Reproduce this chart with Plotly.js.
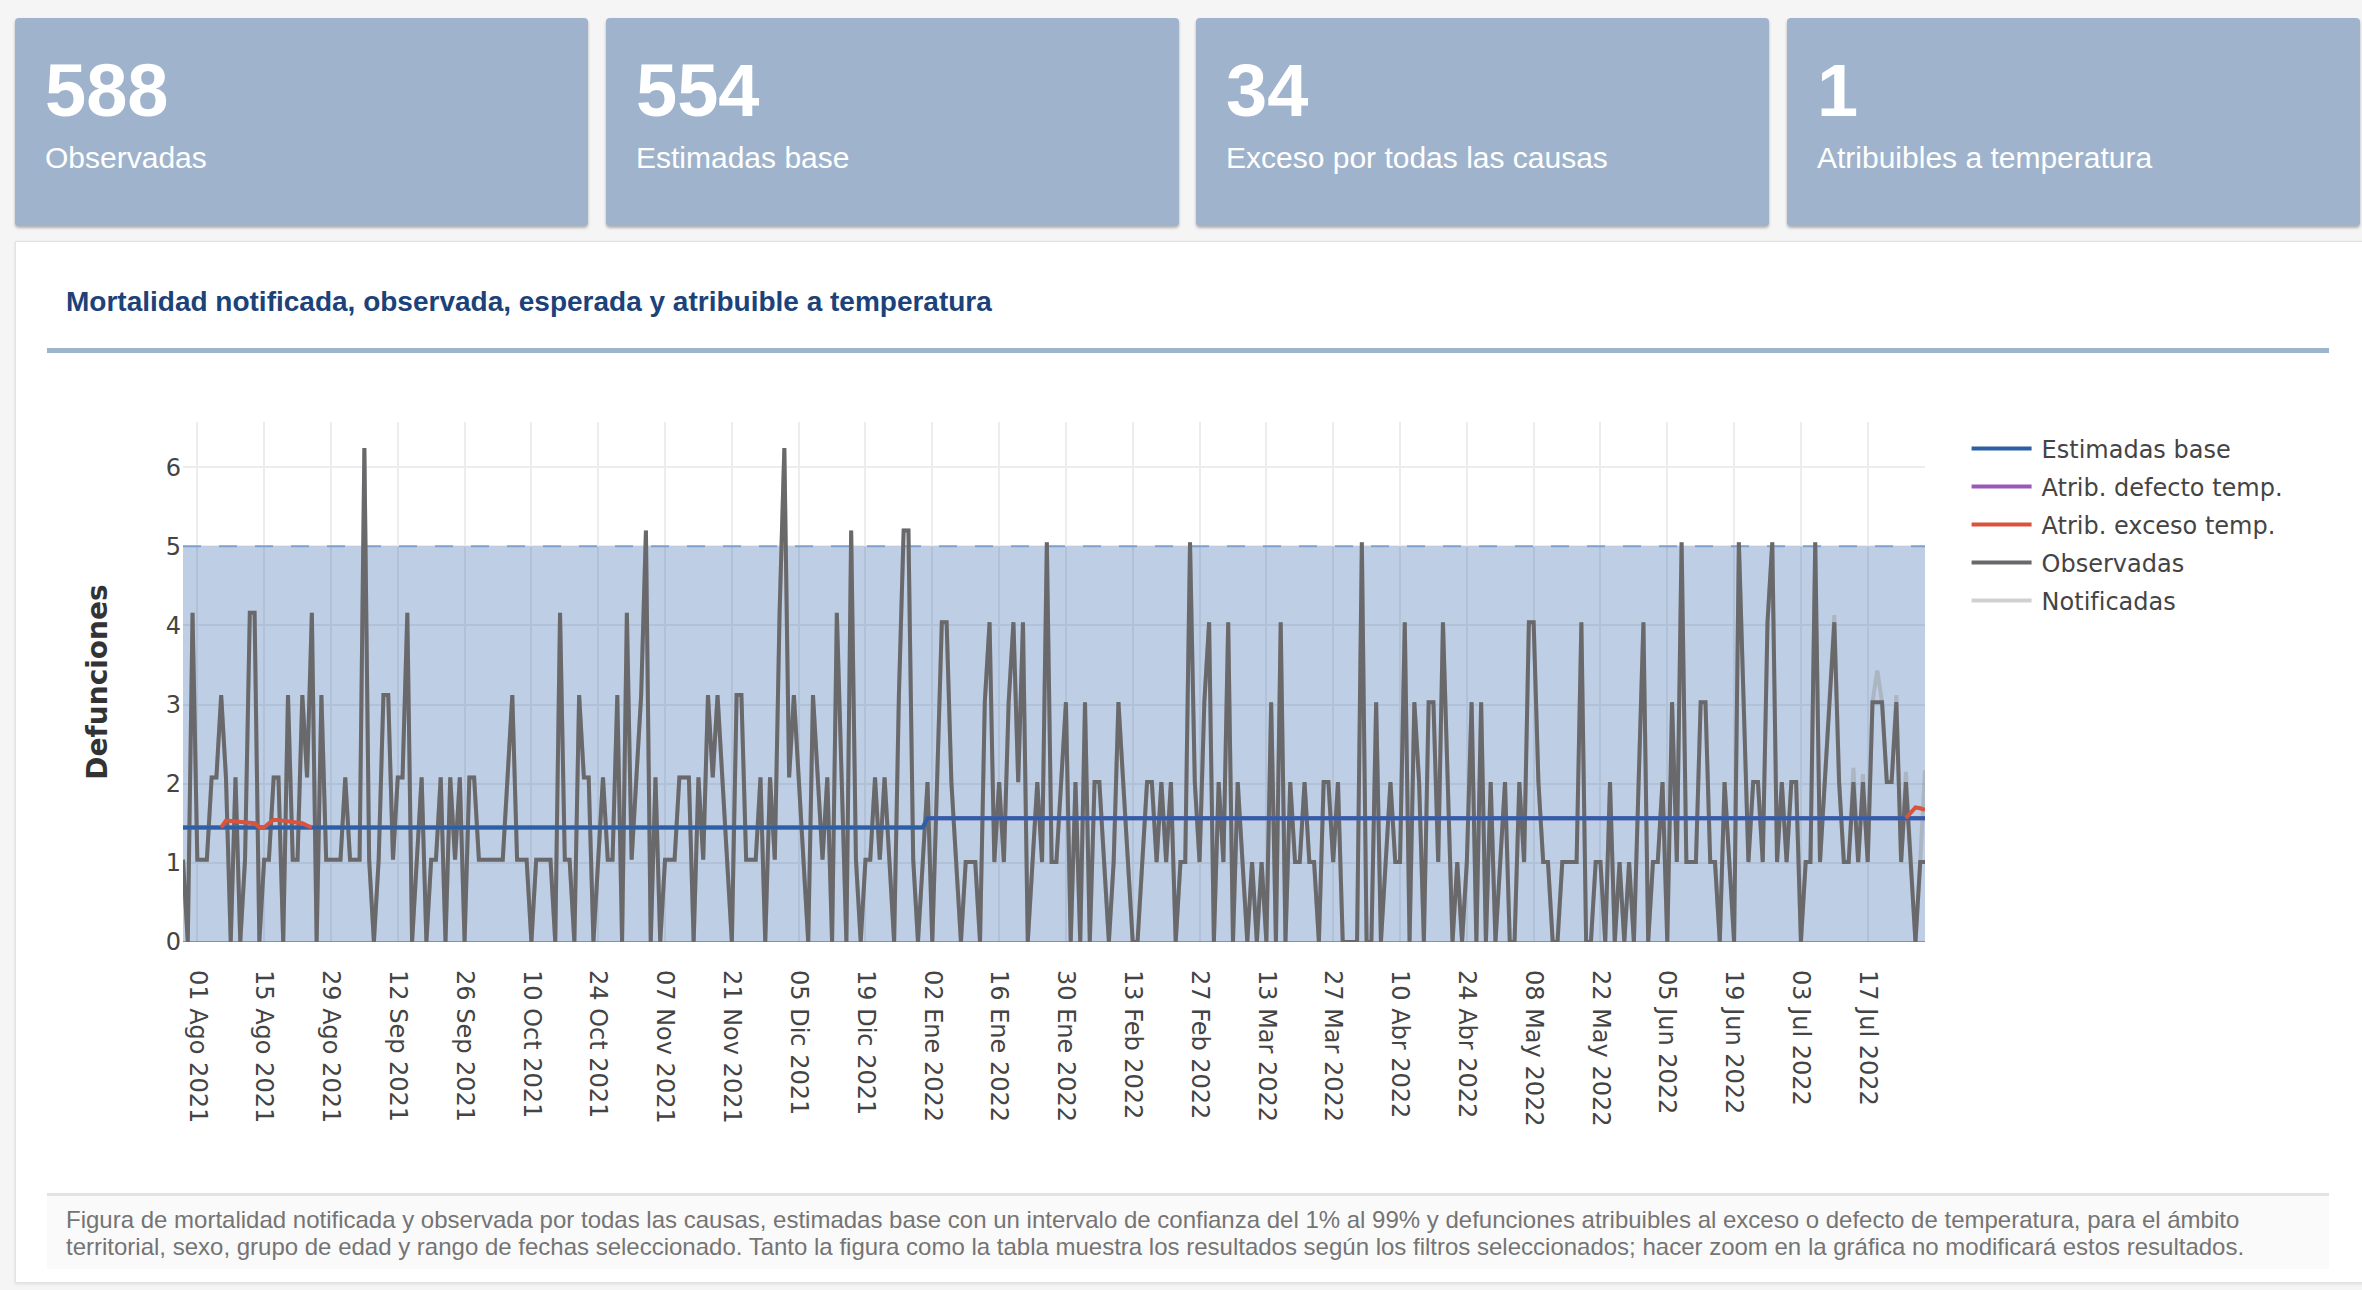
<!DOCTYPE html>
<html lang="es">
<head>
<meta charset="utf-8">
<title>Mortalidad notificada, observada, esperada y atribuible a temperatura</title>
<script src="https://cdn.plot.ly/plotly-3.0.1.min.js"></script>
<style>
  html, body { margin: 0; padding: 0; }
  body {
    width: 2362px; height: 1290px; overflow: hidden; position: relative;
    background: #f5f5f5; font-family: "Liberation Sans", Arial, Helvetica, sans-serif;
  }
  .kpi {
    position: absolute; top: 18px; width: 573px; height: 208px;
    background: #9fb4cc; border-radius: 4px;
    box-shadow: 0 2px 3px rgba(0,0,0,0.28);
    color: #fff;
  }
  .kpi .num {
    position: absolute; left: 30px; top: 36px;
    font-size: 74px; line-height: 74px; font-weight: bold;
  }
  .kpi .lbl {
    position: absolute; left: 30px; top: 125px;
    font-size: 30px; line-height: 30px;
  }
  #panel {
    position: absolute; left: 15px; top: 241px; width: 2400px; height: 1040px;
    background: #fff; border: 1px solid #e2e2e2;
    box-shadow: 0 1px 3px rgba(0,0,0,0.10);
  }
  #titulo {
    position: absolute; left: 50px; top: 46px;
    font-size: 28px; line-height: 28px; font-weight: bold; color: #1b4279;
    white-space: nowrap;
  }
  #regla {
    position: absolute; left: 31px; top: 106px; width: 2282px; height: 5px;
    background: #9cb5cd;
  }
  #nota {
    position: absolute; left: 31px; top: 951px; width: 2282px; height: 76px;
    background: #fafafa; border-top: 3px solid #e3e3e3;
    color: #747474; font-size: 24px; line-height: 27px;
    box-sizing: border-box; padding: 10px 0 0 19px; white-space: nowrap;
  }
  #grafico {
    position: absolute; left: 15px; top: 380px;
    transform: scale(2); transform-origin: 0 0;
  }
</style>
</head>
<body>

<div class="kpi" style="left:15px"><div class="num">588</div><div class="lbl">Observadas</div></div>
<div class="kpi" style="left:606px"><div class="num">554</div><div class="lbl">Estimadas base</div></div>
<div class="kpi" style="left:1196px"><div class="num">34</div><div class="lbl">Exceso por todas las causas</div></div>
<div class="kpi" style="left:1787px"><div class="num">1</div><div class="lbl">Atribuibles a temperatura</div></div>

<div id="panel">
  <div id="titulo">Mortalidad notificada, observada, esperada y atribuible a temperatura</div>
  <div id="regla"></div>
  <div id="nota">Figura de mortalidad notificada y observada por todas las causas, estimadas base con un intervalo de confianza del 1% al 99% y defunciones atribuibles al exceso o defecto de temperatura, para el ámbito<br>territorial, sexo, grupo de edad y rango de fechas seleccionado. Tanto la figura como la tabla muestra los resultados según los filtros seleccionados; hacer zoom en la gráfica no modificará estos resultados.</div>
</div>

<div id="grafico"></div>

<script>
// Daily observed deaths, 29 Jul 2021 - 31 Dec 2021
const observadas2021 = [
  1.04,0,4.16,1.04,1.04,1.04,2.08,2.08,3.12,2.08,
  0,2.08,0,1.04,4.16,4.16,0,1.04,1.04,2.08,
  2.08,0,3.12,1.04,1.04,3.12,2.08,4.16,0,3.12,
  1.04,1.04,1.04,1.04,2.08,1.04,1.04,1.04,6.24,1.04,
  0,1.04,3.12,3.12,1.04,2.08,2.08,4.16,0,1.04,
  2.08,0,1.04,1.04,2.08,0,2.08,1.04,2.08,0,
  2.08,2.08,1.04,1.04,1.04,1.04,1.04,1.04,2.08,3.12,
  1.04,1.04,1.04,0,1.04,1.04,1.04,1.04,0,4.16,
  1.04,1.04,0,3.12,2.08,2.08,0,1.04,2.08,1.04,
  1.04,3.12,0,4.16,1.04,2.08,3.12,5.2,0,2.08,
  0,1.04,1.04,1.04,2.08,2.08,2.08,0,2.08,1.04,
  3.12,2.08,3.12,2.08,1.04,0,3.12,3.12,1.04,1.04,
  1.04,2.08,0,2.08,1.04,4.16,6.24,2.08,3.12,2.08,
  1.04,0,3.12,2.08,1.04,2.08,0,4.16,2.08,0,
  5.2,1.04,0,1.04,1.04,2.08,1.04,2.08,1.04,0,
  3.12,5.2,5.2,1.04,0,1.04
];

// Daily observed deaths, 1 Jan 2022 - 29 Jul 2022
const observadas2022 = [
  2.02,0,2.02,4.04,
  4.04,2.02,1.01,0,1.01,1.01,1.01,0,3.03,4.04,
  1.01,2.02,1.01,3.03,4.04,2.02,4.04,0,1.01,2.02,
  1.01,5.05,1.01,1.01,2.02,3.03,0,2.02,0,3.03,
  0,2.02,2.02,1.01,0,1.01,3.03,2.02,1.01,0,
  0,1.01,2.02,2.02,1.01,2.02,1.01,2.02,0,1.01,
  1.01,5.05,2.02,1.01,3.03,4.04,0,2.02,1.01,4.04,
  0,2.02,1.01,0,1.01,0,1.01,0,3.03,0,
  4.04,0,2.02,1.01,1.01,2.02,1.01,1.01,0,2.02,
  2.02,1.01,2.02,0,0,0,0,5.05,0,0,
  3.03,0,1.01,2.02,1.01,1.01,4.04,0,3.03,2.02,
  0,3.03,3.03,1.01,4.04,2.02,0,1.01,0,1.01,
  3.03,0,3.03,0,2.02,0,1.01,2.02,0,0,
  2.02,1.01,4.04,4.04,2.02,1.01,1.01,0,0,1.01,
  1.01,1.01,1.01,4.04,0,0,1.01,1.01,0,2.02,
  0,1.01,0,1.01,0,2.02,4.04,0,1.01,1.01,
  2.02,0,3.03,1.01,5.05,1.01,1.01,1.01,3.03,3.03,
  1.01,1.01,0,2.02,1.01,0,5.05,3.03,1.01,2.02,
  2.02,1.01,4.04,5.05,1.01,2.02,1.01,2.02,2.02,0,
  1.01,1.01,5.05,1.01,2.02,3.03,4.04,2.02,1.01,1.01,
  2.02,1.01,2.02,1.01,3.03,3.03,3.03,2.02,2.02,3.03,
  1.01,2.02,1.01,0,1.01,1.01
];

const inicioSerie = '2021-07-29';
const finSerie = '2022-07-29';

// Notified deaths over the last days (8 Jul - 29 Jul 2022); before that they match the observed series
const inicioNotificadasFinal = '2022-07-08';
const notificadasFinal = [2.02,3.03,4.13,2.02,1.01,1.01,2.2,1.01,2.12,1.01,3.03,3.43,3.03,2.02,2.02,3.12,1.01,2.15,1.01,0,1.01,2.17];

// Baseline estimate (one level per year)
const estimadasFechas = ['2021-07-29','2021-12-31','2022-01-01','2022-07-29'];
const estimadasValores = [1.447,1.447,1.563,1.563];

// 1%-99% confidence band
const bandaFechas = ['2021-07-29','2022-07-29'];
const bandaInferior = [0,0];
const bandaSuperior = [5,5];

// Baseline plus deaths attributable to excess temperature
const excesoFechas = [
  '2021-08-06','2021-08-07','2021-08-08','2021-08-09','2021-08-10','2021-08-11','2021-08-12','2021-08-13','2021-08-14','2021-08-15',
  '2021-08-16','2021-08-17','2021-08-18','2021-08-19','2021-08-20','2021-08-21','2021-08-22','2021-08-23','2021-08-24','2021-08-25',
  '2022-01-01',
  '2022-07-25','2022-07-26','2022-07-27','2022-07-28','2022-07-29'
];
const excesoValores = [
  1.447,1.535,1.53,1.525,1.52,1.515,1.51,1.50,1.447,1.447,
  1.50,1.545,1.54,1.535,1.53,1.525,1.52,1.50,1.47,1.447,
  null,
  1.563,1.63,1.70,1.69,1.67
];

const mesesCortos = ['Ene','Feb','Mar','Abr','May','Jun','Jul','Ago','Sep','Oct','Nov','Dic'];
const mesesLargos = ['enero','febrero','marzo','abril','mayo','junio','julio','agosto','septiembre','octubre','noviembre','diciembre'];

function fechasDiarias(inicio, n) {
  const [a, m, d] = inicio.split('-').map(Number);
  const t0 = Date.UTC(a, m - 1, d);
  const out = [];
  for (let i = 0; i < n; i++) out.push(new Date(t0 + i * 86400000).toISOString().slice(0, 10));
  return out;
}

const observadas = observadas2021.concat(observadas2022);
const fechas = fechasDiarias(inicioSerie, observadas.length);
const corte = fechas.indexOf(inicioNotificadasFinal);
const notificadas = observadas.slice(0, corte).concat(notificadasFinal);

Plotly.register({
  moduleType: 'locale',
  name: 'es-mortalidad',
  dictionary: {},
  format: {
    days: ['domingo','lunes','martes','miércoles','jueves','viernes','sábado'],
    shortDays: ['dom','lun','mar','mié','jue','vie','sáb'],
    months: mesesLargos,
    shortMonths: mesesCortos,
    date: '%d/%m/%Y',
    decimal: ',',
    thousands: '.'
  }
});

const AZUL = '#2c5fa6';
const traces = [
  { x: bandaFechas, y: bandaInferior, type: 'scatter', mode: 'lines',
    line: { color: 'rgba(40,75,135,0.9)', width: 0.6 }, showlegend: false, hoverinfo: 'skip' },
  { x: bandaFechas, y: bandaSuperior, type: 'scatter', mode: 'lines', fill: 'tonexty',
    fillcolor: 'rgba(46,96,170,0.31)',
    line: { color: 'rgba(120,155,205,0.9)', width: 1, dash: 'dash' }, showlegend: false, hoverinfo: 'skip' },
  { name: 'Notificadas', x: fechas, y: notificadas, type: 'scatter', mode: 'lines',
    line: { color: 'rgba(150,150,150,0.45)', width: 2 }, legendrank: 5 },
  { name: 'Observadas', x: fechas, y: observadas, type: 'scatter', mode: 'lines',
    line: { color: '#69696c', width: 2 }, legendrank: 4 },
  { name: 'Atrib. defecto temp.', x: estimadasFechas, y: estimadasValores, type: 'scatter', mode: 'lines',
    line: { color: '#9b59b6', width: 2 }, legendrank: 2 },
  { name: 'Estimadas base', x: estimadasFechas, y: estimadasValores, type: 'scatter', mode: 'lines',
    line: { color: AZUL, width: 2 }, legendrank: 1 },
  { name: 'Atrib. exceso temp.', x: excesoFechas, y: excesoValores, type: 'scatter', mode: 'lines',
    line: { color: '#d9533e', width: 2 }, connectgaps: false, legendrank: 3 }
];

const layout = {
  width: 1170, height: 400,
  margin: { l: 83.5, r: 215, t: 21, b: 119 },
  paper_bgcolor: 'rgba(0,0,0,0)', plot_bgcolor: '#fff',
  font: { family: '"DejaVu Sans", Verdana, sans-serif', size: 12, color: '#444' },
  showlegend: true,
  legend: { x: 1.021, xanchor: 'left', y: 1.005, yanchor: 'top', font: { size: 12, color: '#444' },
            bgcolor: 'rgba(0,0,0,0)', traceorder: 'normal' },
  xaxis: {
    type: 'date', range: [inicioSerie, finSerie],
    tick0: '2021-08-01', dtick: 14 * 86400000, tickformat: '%d %b %Y', tickangle: 90,
    ticklabelstandoff: 13,
    showgrid: true, gridcolor: '#ededed', gridwidth: 1, zeroline: false, showline: false, ticks: ''
  },
  yaxis: {
    range: [0, 6.57], dtick: 1, showgrid: true, gridcolor: '#ededed', gridwidth: 1,
    zeroline: false, showline: false, ticks: '',
    title: { text: 'Defunciones', standoff: 25, font: { size: 14, weight: 'bold', color: '#333' } }
  }
};

Plotly.newPlot('grafico', traces, layout, { staticPlot: true, displayModeBar: false, locale: 'es-mortalidad' });
</script>
</body>
</html>
